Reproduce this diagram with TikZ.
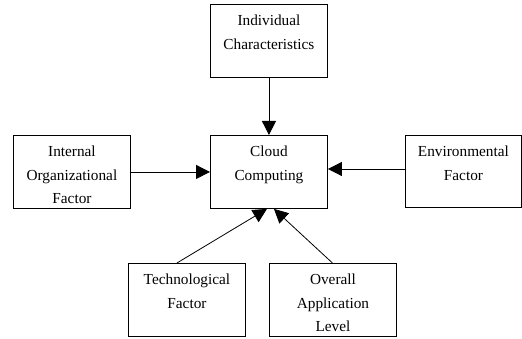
\documentclass[tikz,border=0pt]{standalone}
\usepackage{fontspec}
\setmainfont{Liberation Serif}
\usetikzlibrary{arrows.meta}
\begin{document}
\begin{tikzpicture}[x=1pt,y=-1pt,
  box/.style={draw, line width=0.9pt, rectangle, anchor=north west, inner sep=0pt},
  lbl/.style={font=\fontsize{15.3}{23.5}\selectfont, align=center, anchor=north, inner sep=0pt},
  conn/.style={line width=0.8pt, -{Triangle[length=14pt,width=14pt]}}]
\useasboundingbox (0,0) rectangle (522,339);
\node[box, minimum width=117pt, minimum height=73pt] (ind) at (210,4) {};
\node[box, minimum width=117pt, minimum height=73pt] (cc) at (210,135) {};
\node[box, minimum width=117pt, minimum height=73pt] (int) at (13,135) {};
\node[box, minimum width=116pt, minimum height=72pt] (env) at (405,135) {};
\node[box, minimum width=117pt, minimum height=73pt] (tec) at (128,263) {};
\node[box, minimum width=127pt, minimum height=73pt] (ove) at (269,263) {};
\node[lbl] (tind) at ([yshift=-11pt]ind.north) {Individual\\Characteristics};
\node[lbl] (tcc) at ([yshift=-11pt]cc.north) {Cloud\\Computing};
\node[lbl] (tint) at ([yshift=-11pt]int.north) {Internal\\Organizational\\Factor};
\node[lbl] (tenv) at ([yshift=-11pt]env.north) {Environmental\\Factor};
\node[lbl] (ttec) at ([yshift=-11pt]tec.north) {Technological\\Factor};
\node[lbl] (tove) at ([yshift=-11pt]ove.north) {Overall\\Application\\Level};
\draw[conn] (ind.south) -- (cc.north);
\draw[conn] (int.east) -- (cc.west);
\draw[conn] (env.west |- 0,169) -- (cc.east |- 0,169);
\draw[conn] ([xshift=-10pt]tec.north) -- ([xshift=-2pt]cc.south);
\draw[conn] ([xshift=-0.5pt]ove.north) -- ([xshift=5pt]cc.south);
\end{tikzpicture}
\end{document}
